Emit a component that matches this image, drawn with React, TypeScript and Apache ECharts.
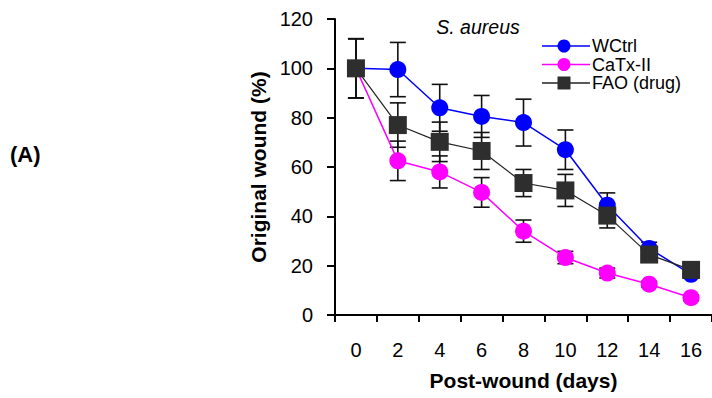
import React, { useEffect, useRef } from "react";
import * as echarts from "echarts";

const days = ["0", "2", "4", "6", "8", "10", "12", "14", "16"];
const yTicks = { min: 0, max: 120, interval: 20 };
const wctrl = [100, 99.5, 84, 80.5, 78, 67, 44.5, 27, 16.5];
const wctrlErr = [12, 11, 9.5, 8.5, 9.5, 8, 5, 2.5, 1.5];
const catx = [100, 62.5, 58, 49.7, 34, 23.3, 17, 12.5, 7];
const catxErr = [12, 8, 6.5, 6, 4.5, 2.5, 2, 1.2, 1.2];
const fao = [100, 77, 70.2, 66.5, 53.5, 50.5, 40.3, 24.5, 18.3];
const faoErr = [12, 9, 8, 7.5, 5.5, 6.5, 5, 3, 2];
const seriesNames = ["WCtrl", "CaTx-II", "FAO (drug)"];
const seriesColors = ["#0000ff", "#ff00ff", "#2e2e2e"];
const seriesSymbols = ["circle", "circle", "rect"];

const FONT = "Liberation Sans, Arial, sans-serif";

function errSeries(vals: number[], errs: number[]) {
  return {
    type: "custom",
    z: 1,
    silent: true,
    data: vals.map((v, i) => [i, v, errs[i]]),
    encode: { x: 0, y: 1 },
    renderItem: (params: any, api: any) => {
      const i = api.value(0);
      const v = api.value(1);
      const e = api.value(2);
      const top = api.coord([i, v + e]);
      const bot = api.coord([i, v - e]);
      const hw = 8;
      const style = { stroke: "#111", lineWidth: 1.6 };
      return {
        type: "group",
        children: [
          { type: "line", shape: { x1: top[0], y1: top[1], x2: bot[0], y2: bot[1] }, style },
          { type: "line", shape: { x1: top[0] - hw, y1: top[1], x2: top[0] + hw, y2: top[1] }, style },
          { type: "line", shape: { x1: bot[0] - hw, y1: bot[1], x2: bot[0] + hw, y2: bot[1] }, style },
        ],
      };
    },
  };
}

function legendGraphics() {
  const out: any[] = [];
  const x0 = 542;
  const x1 = 590;
  const mx = 564;
  seriesNames.forEach((name, k) => {
    const y = 46 + k * 18.5;
    const c = seriesColors[k];
    out.push({
      type: "line",
      shape: { x1: x0, y1: y, x2: x1, y2: y },
      style: { stroke: c === "#2e2e2e" ? "#222" : c, lineWidth: 1.5 },
    });
    if (seriesSymbols[k] === "rect") {
      out.push({ type: "rect", shape: { x: mx - 6.5, y: y - 6.5, width: 13, height: 13 }, style: { fill: c } });
    } else {
      out.push({ type: "circle", shape: { cx: mx, cy: y, r: 6.5 }, style: { fill: c } });
    }
    out.push({
      type: "text",
      x: 592,
      y: y,
      style: {
        text: name,
        fontFamily: FONT,
        fontSize: 18,
        lineHeight: 18,
        fill: "#000",
        textAlign: "left",
        textVerticalAlign: "middle",
      },
    });
  });
  return out;
}

export default function App() {
  const ref = useRef<HTMLDivElement>(null);
  useEffect(() => {
    document.body.style.margin = "0";
    const chart = echarts.init(ref.current!, null, { renderer: "svg" });
    chart.setOption({
      animation: false,
      backgroundColor: "#ffffff",
      grid: { left: 335, right: 0, top: 19, bottom: 83 },
      graphic: [
        {
          type: "text",
          x: 478,
          y: 27,
          style: {
            text: "S. aureus",
            fontFamily: FONT,
            fontStyle: "italic",
            fontSize: 19.5,
            fill: "#000",
            textAlign: "center",
            textVerticalAlign: "middle",
          },
        },
        {
          type: "text",
          x: 10,
          y: 154,
          style: {
            text: "(A)",
            fontFamily: FONT,
            fontWeight: "bold",
            fontSize: 22,
            fill: "#000",
            textAlign: "left",
            textVerticalAlign: "middle",
          },
        },
        ...legendGraphics(),
      ],
      xAxis: {
        type: "category",
        data: days,
        boundaryGap: true,
        name: "Post-wound (days)",
        nameLocation: "middle",
        nameGap: 55,
        nameTextStyle: { fontFamily: FONT, fontWeight: "bold", fontSize: 21, color: "#000" },
        axisLine: { lineStyle: { color: "#000", width: 2 } },
        axisTick: { show: true, length: 7, lineStyle: { color: "#000", width: 2 } },
        axisLabel: { fontFamily: FONT, fontSize: 20, color: "#000", margin: 25, interval: 0 },
        splitLine: { show: false },
      },
      yAxis: {
        type: "value",
        min: yTicks.min,
        max: yTicks.max,
        interval: yTicks.interval,
        name: "Original wound (%)",
        nameLocation: "middle",
        nameRotate: 90,
        nameGap: 61,
        nameTextStyle: { fontFamily: FONT, fontWeight: "bold", fontSize: 21, color: "#000" },
        axisLine: { show: true, lineStyle: { color: "#000", width: 2 } },
        axisTick: { show: true, length: 8, lineStyle: { color: "#000", width: 2 } },
        axisLabel: { fontFamily: FONT, fontSize: 20, color: "#000", margin: 22 },
        splitLine: { show: false },
      },
      series: [
        errSeries(wctrl, wctrlErr),
        errSeries(catx, catxErr),
        errSeries(fao, faoErr),
        {
          name: seriesNames[0],
          type: "line",
          z: 3,
          data: wctrl,
          symbol: seriesSymbols[0],
          symbolSize: 17,
          itemStyle: { color: seriesColors[0] },
          lineStyle: { color: seriesColors[0], width: 1.5 },
        },
        {
          name: seriesNames[1],
          type: "line",
          z: 3,
          data: catx,
          symbol: seriesSymbols[1],
          symbolSize: 17,
          itemStyle: { color: seriesColors[1] },
          lineStyle: { color: seriesColors[1], width: 1.5 },
        },
        {
          name: seriesNames[2],
          type: "line",
          z: 4,
          data: fao,
          symbol: seriesSymbols[2],
          symbolSize: 18,
          itemStyle: { color: seriesColors[2] },
          lineStyle: { color: "#222", width: 1.2 },
        },
      ],
    });
    return () => chart.dispose();
  }, []);
  return <div ref={ref} style={{ width: 712, height: 398 }} />;
}
